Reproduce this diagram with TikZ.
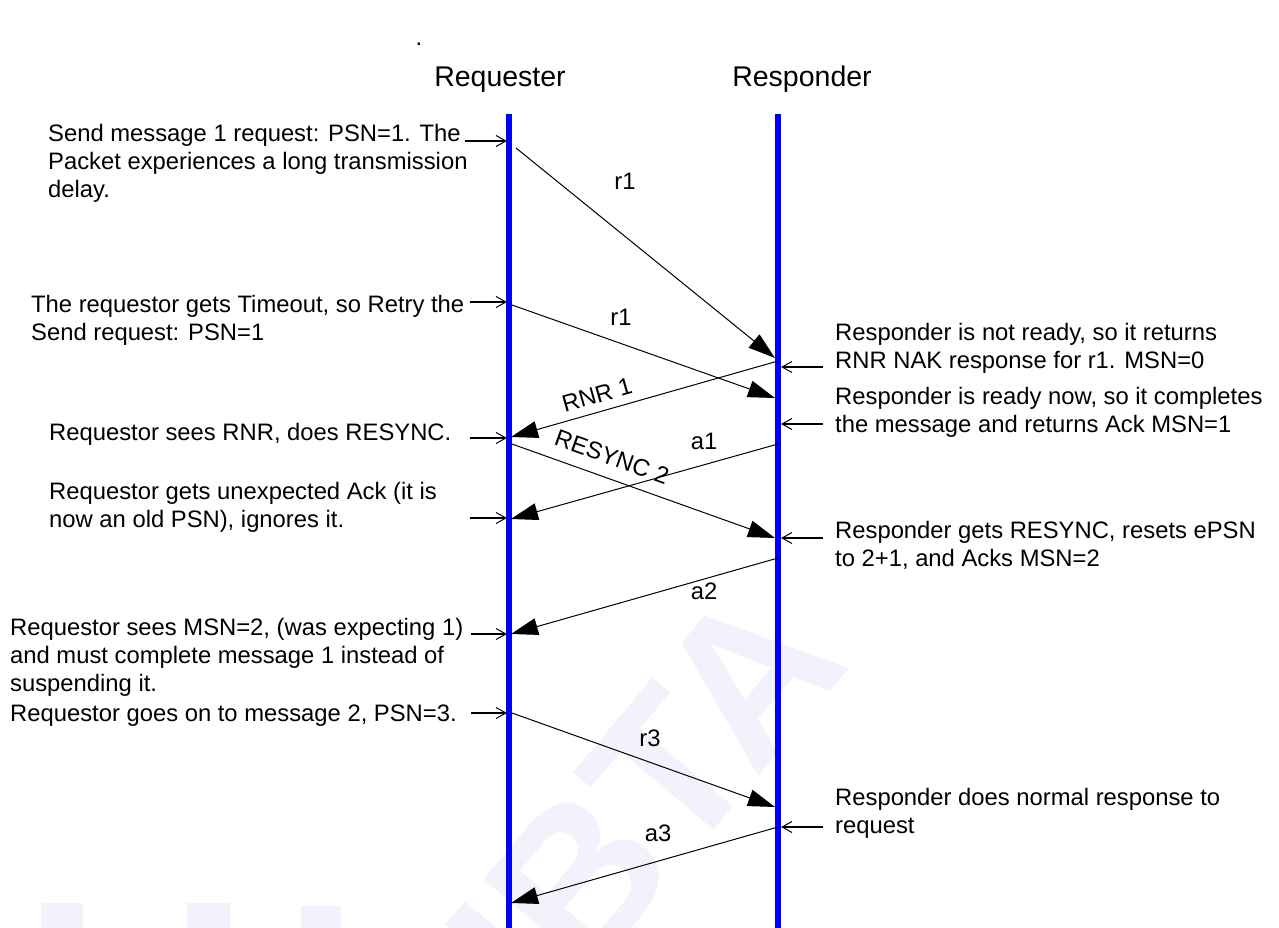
\documentclass[tikz,border=0pt]{standalone}
\usepackage{fontspec}
\setmainfont{Liberation Sans}
\usetikzlibrary{arrows.meta}
\definecolor{lifeblue}{RGB}{0,0,255}
\definecolor{wmark}{RGB}{242,242,252}
\begin{document}
\begin{tikzpicture}[x=1pt,y=-1pt,
  life/.style={draw=lifeblue,line width=5.5pt},
  msg/.style={draw=black,line width=1pt,-{Triangle[length=27pt,width=17pt]}},
  note/.style={draw=black,line width=1.8pt,-{Straight Barb[length=10pt,width=11pt,line width=1pt]}},
  txt/.style={font=\fontsize{23.8}{27.6}\selectfont,align=left,inner sep=0pt,anchor=base west},
  hdr/.style={font=\fontsize{28.5}{33}\selectfont,inner sep=0pt,anchor=base},
  lbl/.style={font=\fontsize{23.8}{27.6}\selectfont,inner sep=0pt},
  wm/.style={text=wmark,font=\bfseries\fontsize{210}{210}\selectfont,inner sep=0pt}
]
\useasboundingbox (0,0) rectangle (1279,928);
% watermark
\begin{scope}
\clip (0,0) rectangle (1279,928);
\fill[wmark] (41,903) rectangle (83,928);
\fill[wmark] (187,903) rectangle (230,928);
\fill[wmark] (301,906) rectangle (341,928);
\node[wm,rotate=50] (wmtext) at (645,800) {IBTA};
\end{scope}
\node[lbl] (dot) at (419,44) {.};
% headers
\node[hdr] (hreq) at (500,87) {Requester};
\node[hdr] (hres) at (802,87) {Responder};
% lifelines
\coordinate (qtop) at (509,114);
\coordinate (qbot) at (509,928);
\coordinate (stop) at (778,114);
\coordinate (sbot) at (778,928);
\draw[life] (qtop) -- (qbot);
\draw[life] (stop) -- (sbot);
% message end points
\coordinate (m1s) at (516,148); \coordinate (m1e) at (775,358);
\coordinate (m2s) at (512,305); \coordinate (m2e) at (775,398);
\coordinate (m3s) at (778,361); \coordinate (m3e) at (511,437);
\coordinate (m4s) at (512,444); \coordinate (m4e) at (775,538);
\coordinate (m5s) at (778,444); \coordinate (m5e) at (511,519);
\coordinate (m6s) at (778,558); \coordinate (m6e) at (511,634);
\coordinate (m7s) at (512,713); \coordinate (m7e) at (775,807);
\coordinate (m8s) at (778,827); \coordinate (m8e) at (511,903);
\draw[msg] (m1s) -- (m1e);
\draw[msg] (m2s) -- (m2e);
\draw[msg] (m3s) -- (m3e);
\draw[msg] (m4s) -- (m4e);
\draw[msg] (m5s) -- (m5e);
\draw[msg] (m6s) -- (m6e);
\draw[msg] (m7s) -- (m7e);
\draw[msg] (m8s) -- (m8e);
% message labels
\node[lbl] (l1) at (625,181) {r1};
\node[lbl] (l2) at (621,317) {r1};
\node[lbl,rotate=15.8] (l3) at (597,395) {RNR 1};
\node[lbl] (l4) at (704,441) {a1};
\node[lbl,rotate=-19.6] (l5) at (612,457) {RESYNC 2};
\node[lbl] (l6) at (704,591) {a2};
\node[lbl] (l7) at (650,738) {r3};
\node[lbl] (l8) at (658,833) {a3};
% left notes (anchored at the baseline of the last line)
\node[txt] (t1) at (48,197) {Send message 1 request: PSN=1. The\\Packet experiences a long transmission\\delay.};
\node[txt] (t2) at (31,340) {The requestor gets Timeout, so Retry the\\Send request: PSN=1};
\node[txt] (t3) at (49,440) {Requestor sees RNR, does RESYNC.};
\node[txt] (t4) at (49,527.5) {Requestor gets unexpected Ack (it is\\now an old PSN), ignores it.};
\node[txt] (t5) at (10,691) {Requestor sees MSN=2, (was expecting 1)\\and must complete message 1 instead of\\suspending it.};
\node[txt] (t6) at (10,721) {Requestor goes on to message 2, PSN=3.};
\coordinate (a1s) at (465,141); \coordinate (a1e) at (507,141);
\coordinate (a2s) at (470,302); \coordinate (a2e) at (507,302);
\coordinate (a3s) at (470,438); \coordinate (a3e) at (507,438);
\coordinate (a4s) at (470,518); \coordinate (a4e) at (507,518);
\coordinate (a5s) at (471,634); \coordinate (a5e) at (507,634);
\coordinate (a6s) at (471,713); \coordinate (a6e) at (507,713);
\draw[note] (a1s) -- (a1e);
\draw[note] (a2s) -- (a2e);
\draw[note] (a3s) -- (a3e);
\draw[note] (a4s) -- (a4e);
\draw[note] (a5s) -- (a5e);
\draw[note] (a6s) -- (a6e);
% right notes
\node[txt] (r1) at (835,368) {Responder is not ready, so it returns\\RNR NAK response for r1. MSN=0};
\node[txt] (r2) at (835,432) {Responder is ready now, so it completes\\the message and returns Ack MSN=1};
\node[txt] (r3) at (835,566) {Responder gets RESYNC, resets ePSN\\to 2+1, and Acks MSN=2};
\node[txt] (r4) at (835,833) {Responder does normal response to\\request};
\coordinate (b1s) at (823,367); \coordinate (b1e) at (781,367);
\coordinate (b2s) at (823,424); \coordinate (b2e) at (781,424);
\coordinate (b3s) at (823,538); \coordinate (b3e) at (781,538);
\coordinate (b4s) at (823,827); \coordinate (b4e) at (781,827);
\draw[note] (b1s) -- (b1e);
\draw[note] (b2s) -- (b2e);
\draw[note] (b3s) -- (b3e);
\draw[note] (b4s) -- (b4e);
\end{tikzpicture}
\end{document}
